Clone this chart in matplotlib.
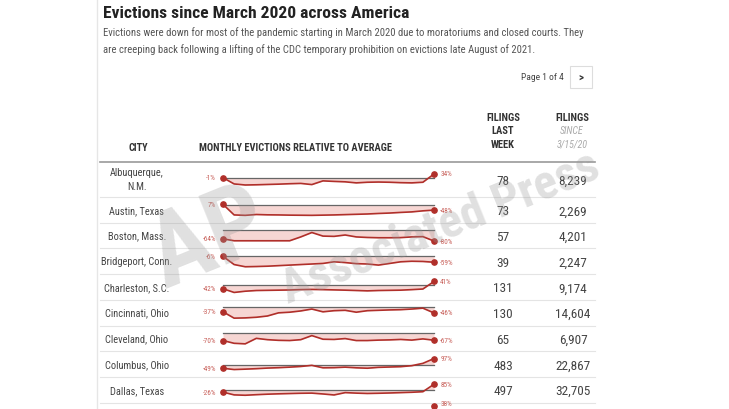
import matplotlib
matplotlib.use("Agg")
import matplotlib.pyplot as plt
from matplotlib import font_manager
from matplotlib.patches import Rectangle

# table data
cities = ["Albuquerque,\nN.M.", "Austin, Texas", "Boston, Mass.", "Bridgeport, Conn.",
          "Charleston, S.C.", "Cincinnati, Ohio", "Cleveland, Ohio", "Columbus, Ohio",
          "Dallas, Texas"]
filings_last_week = [78, 73, 57, 39, 131, 130, 65, 483, 497]
filings_since = [8239, 2269, 4201, 2247, 9174, 14604, 6907, 22867, 32705]

# monthly evictions relative to average (%)
albuquerque = [-1, -60, -70, -68, -65, -62, -58, -55, -66, -31, -36, -40, -50, -44, -42, -44, -48, -50, -44, 34]
austin = [7, -94, -98, -90, -93, -94, -96, -97, -98, -96, -94, -91, -88, -85, -80, -76, -70, -65, -55, -48]
boston = [-64, -78, -78, -78, -78, -78, -78, -50, -18, -44, -46, -36, -50, -54, -56, -56, -55, -50, -48, -80]
bridgeport = [-6, -80, -100, -98, -95, -90, -85, -80, -75, -70, -55, -62, -72, -75, -85, -70, -55, -50, -52, -59]
charleston = [-42, -84, -70, -62, -60, -58, -56, -52, -50, -52, -55, -58, -62, -66, -62, -60, -58, -52, -45, 41]
cincinnati = [-37, -87, -85, -80, -70, -45, -40, -30, -15, -37, -28, -25, -40, -28, -25, -22, -20, -15, -8, -46]
cleveland = [-70, -95, -100, -50, -62, -68, -70, -62, -25, -58, -60, -52, -70, -70, -66, -64, -60, -66, -55, -67]
columbus = [-49, -68, -62, -55, -46, -40, -32, -22, -5, -42, -40, -32, -42, -48, -35, -30, -25, -10, 25, 97]
dallas = [-26, -65, -70, -62, -55, -50, -46, -42, -40, -52, -66, -33, -40, -45, -42, -38, -33, -28, -20, 85]
monthly = [albuquerque, austin, boston, bridgeport, charleston, cincinnati,
           cleveland, columbus, dallas]
next_row_end = 38  # only the end point of the next row shows

title = "Evictions since March 2020 across America"
subtitle = ["Evictions were down for most of the pandemic starting in March 2020 due to moratoriums and closed courts. They",
            "are creeping back following a lifting of the CDC temporary prohibition on evictions late August of 2021."]

available = {f.name for f in font_manager.fontManager.ttflist}
font = "DejaVu Sans"
for name in ["Liberation Sans Narrow", "DejaVu Sans Condensed", "Roboto Condensed"]:
    if name in available:
        font = name
        break
plt.rcParams["font.family"] = [font, "DejaVu Sans"]

W, H = 729, 410
RED = "#b02f2a"
LABEL_RED = "#c8605a"
TEXT = "#444444"

fig = plt.figure(figsize=(W / 100, H / 100), dpi=100)
ax0 = fig.add_axes([0, 0, 1, 1])
ax0.set_xlim(0, W)
ax0.set_ylim(H, 0)
ax0.axis("off")

# card border
ax0.plot([97, 97], [0, H], color="#e6e6e6", lw=1)

ax0.text(103, 13, title, fontsize=12.6, fontweight="bold", color="#222222", va="center")
ax0.text(103, 33, subtitle[0], fontsize=7.7, color="#555555", va="center")
ax0.text(103, 50, subtitle[1], fontsize=7.7, color="#555555", va="center")

ax0.text(564, 78, "Page 1 of 4", fontsize=6.8, color=TEXT, ha="right", va="center")
ax0.add_patch(Rectangle((570, 67), 22, 22, facecolor="white", edgecolor="#dddddd", lw=0.8))
ax0.text(581, 78, ">", fontsize=8, fontweight="bold", color="#333333", ha="center", va="center")

# column headers
ax0.text(138, 148, "CITY", fontsize=7.4, fontweight="bold", color="#333333", ha="center", va="center")
ax0.text(296, 148, "MONTHLY EVICTIONS RELATIVE TO AVERAGE", fontsize=7.5, fontweight="bold",
         color="#333333", ha="center", va="center")
for txt, yy in zip(["FILINGS", "LAST", "WEEK"], [118, 131.5, 145]):
    ax0.text(503, yy, txt, fontsize=7.6, fontweight="bold", color="#333333", ha="center", va="center")
ax0.text(572, 118, "FILINGS", fontsize=7.6, fontweight="bold", color="#333333", ha="center", va="center")
ax0.text(572, 131.5, "SINCE", fontsize=7.2, style="italic", color="#aaaaaa", ha="center", va="center")
ax0.text(572, 145, "3/15/20", fontsize=7.2, style="italic", color="#aaaaaa", ha="center", va="center")

ax0.plot([100, 595], [163, 163], color="#999999", lw=1.2)

# rows: the first row is taller (two-line city name)
row_tops = [163, 198]
for i in range(len(cities) - 1):
    row_tops.append(198 + 25.7 * (i + 1))
x_start, x_end = 223, 434
band = 11

for i, (city, series) in enumerate(zip(cities, monthly)):
    top, bottom = row_tops[i], row_tops[i + 1]
    yc = (top + bottom) / 2
    ax0.plot([100, 595], [bottom, bottom], color="#e4e4e4", lw=0.8)
    ax0.text(137, yc, city, fontsize=7.5, color=TEXT, ha="center", va="center",
             linespacing=1.5)
    ax0.text(503, yc + 1, f"{filings_last_week[i]:,}", fontsize=9.5, color=TEXT, ha="center", va="center")
    ax0.text(573, yc + 1, f"{filings_since[i]:,}", fontsize=9.5, color=TEXT, ha="center", va="center")

    ax = fig.add_axes([x_start / W, 1 - (yc + band / 2) / H, (x_end - x_start) / W, band / H])
    n = len(series)
    xs = list(range(n))
    lo, hi = min(series), max(max(series), 0)
    ax.set_xlim(0, n - 1)
    ax.set_ylim(lo, hi)
    ax.axis("off")
    ax.fill_between(xs, series, 0, color="#f3c9c5", alpha=0.75, lw=0, clip_on=False)
    ax.axhline(0, color="#666666", lw=0.9, clip_on=False)
    ax.plot(xs, series, color=RED, lw=1.2, clip_on=False)
    ax.plot([0, n - 1], [series[0], series[-1]], "o", ms=3.8, color=RED, clip_on=False)
    ax.annotate(f"{series[0]}%", (0, series[0]), xytext=(-5, 0), textcoords="offset points",
                fontsize=5.2, color=LABEL_RED, ha="right", va="center")
    ax.annotate(f"{series[-1]}%", (n - 1, series[-1]), xytext=(4.5, 0), textcoords="offset points",
                fontsize=5.2, color=LABEL_RED, ha="left", va="center")

# partial next row at the bottom edge
yc = row_tops[-1] + 8.5
ax = fig.add_axes([x_start / W, 1 - (yc + band / 2) / H, (x_end - x_start) / W, band / H])
ax.set_xlim(0, 1)
ax.set_ylim(-100, next_row_end)
ax.axis("off")
ax.plot([1], [next_row_end], "o", ms=3.8, color=RED, clip_on=False)
ax.annotate(f"{next_row_end}%", (1, next_row_end), xytext=(4.5, 1.5), textcoords="offset points",
            fontsize=5.2, color=LABEL_RED, ha="left", va="center")

# AP watermark
fig.text(210 / W, 1 - 240 / H, "AP", fontsize=74, fontweight="bold", color="#999999",
         alpha=0.3, rotation=22, ha="center", va="center", zorder=10)
fig.text(440 / W, 1 - 228 / H, "Associated Press", fontsize=35, fontweight="bold",
         color="#999999", alpha=0.3, rotation=22, ha="center", va="center", zorder=10)

fig.savefig("out.png", dpi=100, facecolor="white")
